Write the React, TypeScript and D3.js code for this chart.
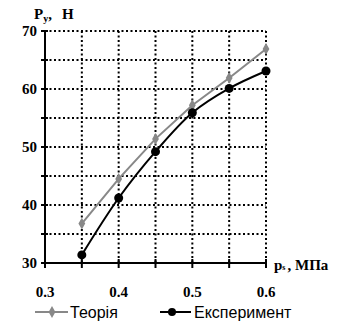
import React from "react";
import * as d3 from "d3";

// Pressure values, МПа
const pressures = [0.35, 0.4, 0.45, 0.5, 0.55, 0.6];
// Force, Н
const theory = [36.8, 44.5, 51.4, 57.2, 61.9, 66.9];
const experiment = [31.4, 41.2, 49.2, 55.9, 60.1, 63.1];

const xTickLabels = [0.3, 0.4, 0.5, 0.6];
const yTickLabels = [30, 40, 50, 60, 70];
const xGrid = [0.35, 0.4, 0.45, 0.5, 0.55, 0.6];
const yGrid = [35, 40, 45, 50, 55, 60, 65, 70];
const xMinor = [0.3, 0.35, 0.4, 0.45, 0.5, 0.55, 0.6];
const yMinor = [30, 35, 40, 45, 50, 55, 60, 65, 70];

const W = 337;
const H = 326;
const left = 45;
const right = 266;
const top = 31;
const bottom = 263;

export default function App() {
  const x = d3.scaleLinear().domain([0.3, 0.6]).range([left, right]);
  const y = d3.scaleLinear().domain([30, 70]).range([bottom, top]);

  const theoryPts: [number, number][] = pressures.map((p, i) => [x(p), y(theory[i])]);
  const expPts: [number, number][] = pressures.map((p, i) => [x(p), y(experiment[i])]);

  const lineLin = d3.line().curve(d3.curveLinear);
  const lineSmooth = d3.line().curve(d3.curveCatmullRom.alpha(0.5));

  const serif = "'Liberation Serif', 'Times New Roman', serif";
  const sans = "'Liberation Sans', Arial, sans-serif";
  const diamond = d3.symbol().type(d3.symbolDiamond).size(40)() || "";

  return (
    <svg
      width={W}
      height={H}
      style={{ position: "absolute", left: 0, top: 0, background: "#fff" }}
    >
      {/* dotted grid */}
      <g stroke="#000" strokeWidth={2} strokeDasharray="2,2.5">
        {xGrid.map((v) => (
          <line key={"gx" + v} x1={x(v)} x2={x(v)} y1={top} y2={bottom} />
        ))}
        {yGrid.map((v) => (
          <line key={"gy" + v} x1={left} x2={right} y1={y(v)} y2={y(v)} />
        ))}
      </g>

      {/* axes */}
      <g stroke="#000" strokeWidth={2}>
        <line x1={left} x2={left} y1={top} y2={bottom + 1} />
        <line x1={left - 1} x2={right} y1={bottom} y2={bottom} />
        {yMinor.map((v) => (
          <line key={"ty" + v} x1={left - 4} x2={left + 3} y1={y(v)} y2={y(v)} />
        ))}
        {xMinor.map((v) => (
          <line key={"tx" + v} x1={x(v)} x2={x(v)} y1={bottom - 4} y2={bottom + 5} />
        ))}
      </g>

      {/* tick labels */}
      <g fontFamily={serif} fontWeight="bold" fontSize={15} fill="#000">
        {yTickLabels.map((v) => (
          <text key={"ly" + v} x={left - 8} y={y(v)} dy="0.35em" textAnchor="end">
            {v}
          </text>
        ))}
        {xTickLabels.map((v) => (
          <text key={"lx" + v} x={x(v)} y={297} textAnchor="middle">
            {v.toFixed(1)}
          </text>
        ))}
      </g>

      {/* axis titles */}
      <g fontFamily={serif} fontWeight="bold" fontSize={15} fill="#000">
        <text x={34} y={19}>
          P<tspan fontSize={10} dy={3}>y</tspan>
          <tspan dy={-3}>,</tspan>
        </text>
        <text x={62} y={19}>Н</text>
        <text x={274} y={270}>
          p<tspan fontSize={8} dy={0}>s</tspan>
          <tspan dx={2}>, МПа</tspan>
        </text>
      </g>

      {/* series */}
      <path d={lineLin(theoryPts) || ""} fill="none" stroke="#888" strokeWidth={2} />
      {theoryPts.map(([px, py], i) => (
        <path key={"td" + i} d={diamond} transform={`translate(${px},${py})`} fill="#888" />
      ))}
      <path d={lineSmooth(expPts) || ""} fill="none" stroke="#000" strokeWidth={2} />
      {expPts.map(([px, py], i) => (
        <circle key={"ec" + i} cx={px} cy={py} r={4.5} fill="#000" />
      ))}

      {/* legend */}
      <g fontFamily={sans} fontSize={16}>
        <line x1={35} x2={68} y1={312} y2={312} stroke="#888" strokeWidth={2} />
        <path d={diamond} transform="translate(52,312)" fill="#888" />
        <text x={70} y={318}>Теорія</text>
        <line x1={160} x2={191} y1={312} y2={312} stroke="#000" strokeWidth={2} />
        <circle cx={172} cy={312} r={4} fill="#000" />
        <text x={194} y={318}>Експеримент</text>
      </g>
    </svg>
  );
}
